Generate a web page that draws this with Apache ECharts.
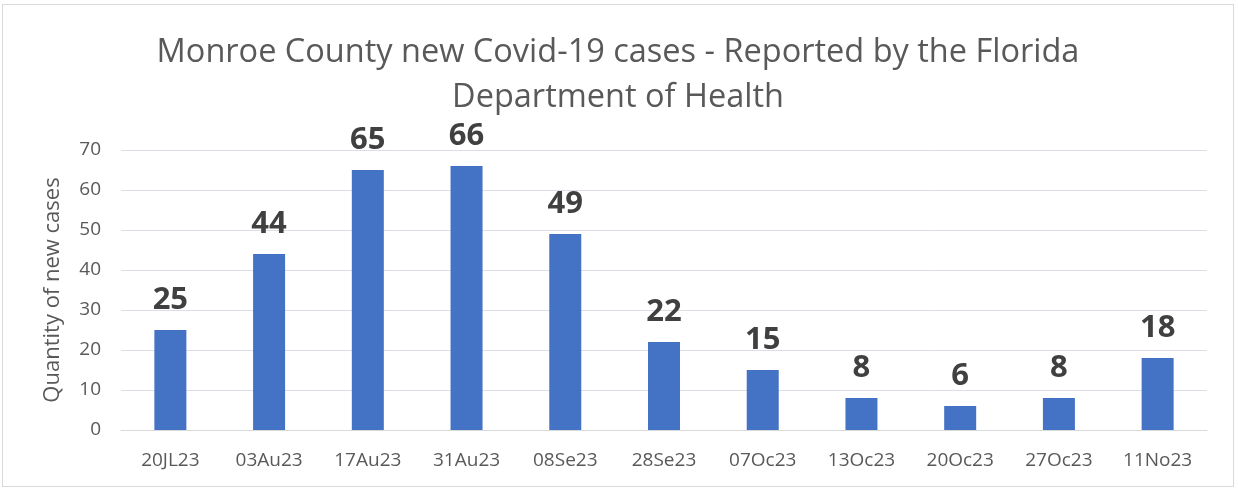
<!DOCTYPE html>
<html><head><meta charset="utf-8">
<script src="https://cdn.jsdelivr.net/npm/echarts@6/dist/echarts.min.js"></script>
<style>
html,body{margin:0;padding:0;background:#fff;}
#c{position:absolute;left:2px;top:4px;width:1232px;height:483px;border:1px solid #d9d9d9;box-sizing:border-box;}
</style></head>
<body><div id="c"></div>
<script>
const categories = ['20JL23','03Au23','17Au23','31Au23','08Se23','28Se23','07Oc23','13Oc23','20Oc23','27Oc23','11No23'];
const newCases = [25,44,65,66,49,22,15,8,6,8,18];
const titleText = 'Monroe County new Covid-19 cases - Reported by the Florida\nDepartment of Health';
const yAxisName = 'Quantity of new cases';

const chart = echarts.init(document.getElementById('c'), null, {renderer:'canvas'});
chart.setOption({
  animation:false,
  title:{text:titleText,left:'center',top:20,
    textStyle:{fontFamily:'Open Sans',fontWeight:'normal',fontSize:32.5,color:'#595959',lineHeight:45}},
  grid:{left:118,right:26,top:145,bottom:56},
  xAxis:{type:'category',data:categories,
    axisLine:{lineStyle:{color:'#d9d9d9',width:1}},axisTick:{show:false},
    axisLabel:{color:'#595959',fontSize:19,fontFamily:'Open Sans',margin:21}},
  yAxis:{type:'value',min:0,max:70,interval:10,name:yAxisName,nameLocation:'middle',nameGap:57,
    nameTextStyle:{color:'#595959',fontSize:22,fontFamily:'Open Sans'},
    axisLine:{show:false},axisTick:{show:false},
    axisLabel:{color:'#595959',fontSize:19,fontFamily:'Open Sans',margin:20}},
  series:[{type:'bar',data:newCases,barWidth:32,
    itemStyle:{color:'#4472C4'},
    label:{show:true,position:'top',distance:14,color:'#404040',fontSize:31,fontWeight:'bold',fontFamily:'Open Sans'}}]
});
</script></body></html>
